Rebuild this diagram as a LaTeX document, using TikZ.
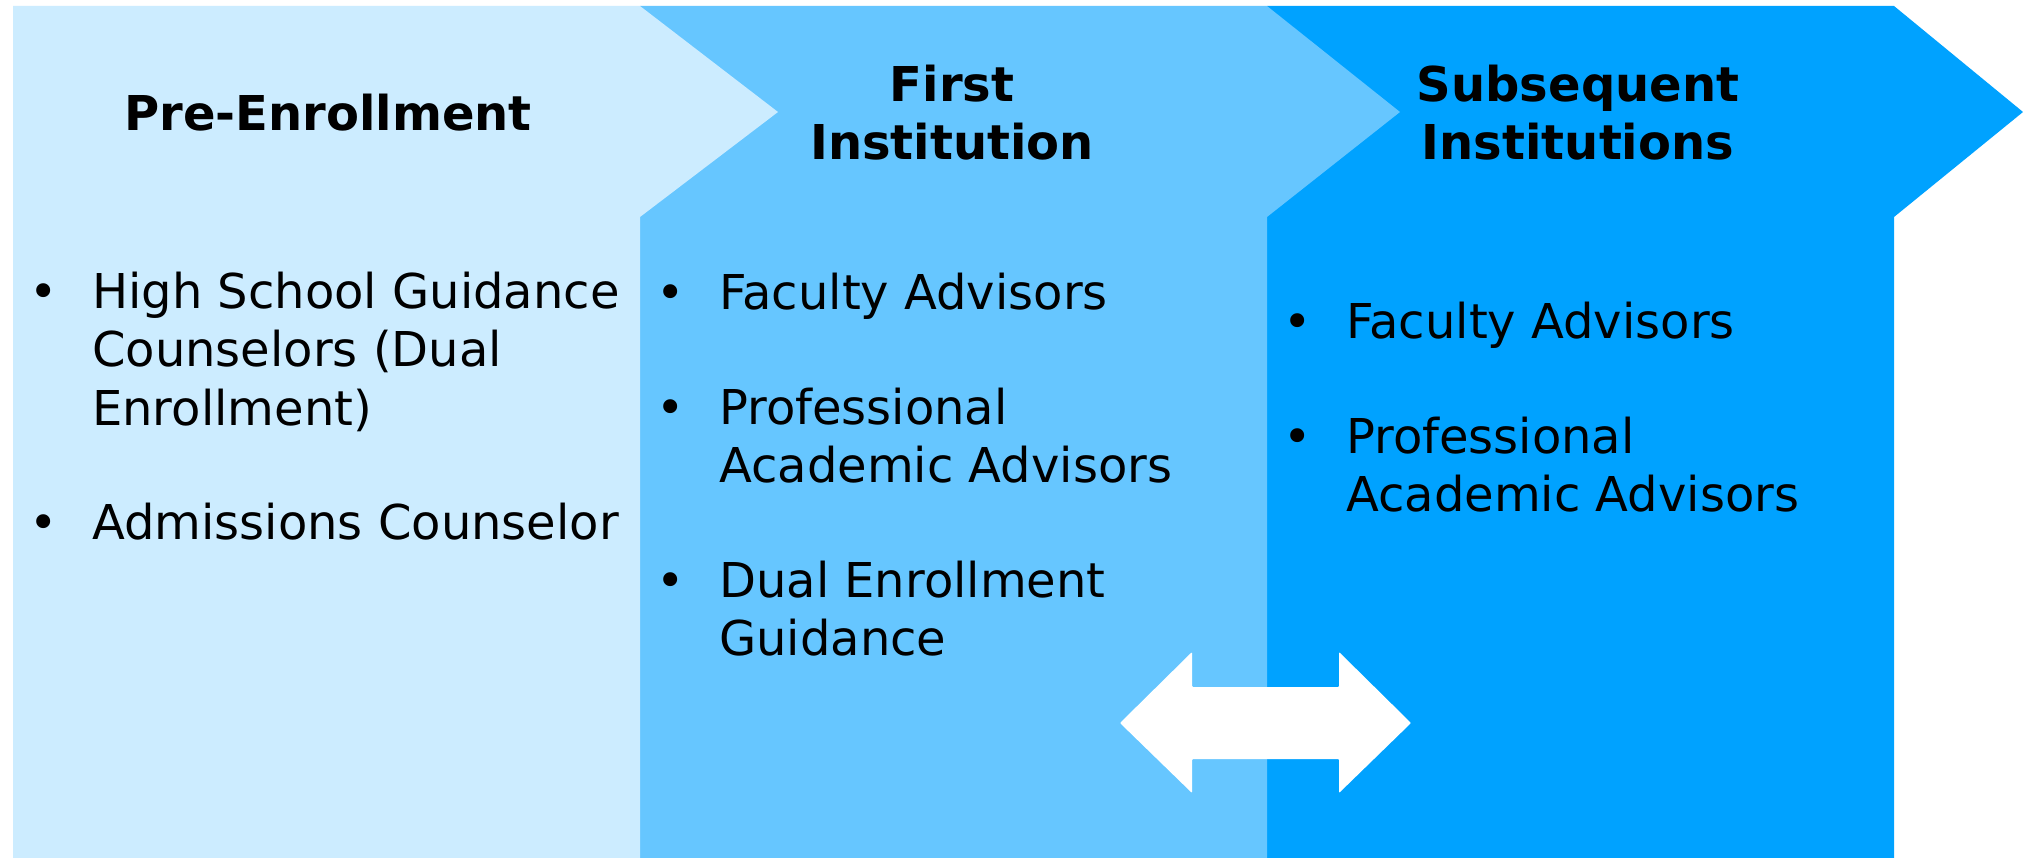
\documentclass[tikz,border=0pt]{standalone}
\usepackage{fontspec}
\setmainfont{DejaVu Sans}
\definecolor{pone}{HTML}{CCECFF}
\definecolor{ptwo}{HTML}{66C6FF}
\definecolor{pthree}{HTML}{00A2FF}
\begin{document}
\begin{tikzpicture}[x=1pt,y=-1pt,
  ttl/.style={anchor=base, inner sep=0pt, font=\bfseries\fontsize{48}{58}\selectfont},
  itm/.style={anchor=base west, inner sep=0pt, font=\fontsize{48}{58}\selectfont},
  bul/.style={anchor=base, inner sep=0pt, font=\fontsize{48}{58}\selectfont}]
\useasboundingbox[fill=white] (0,0) rectangle (2023,858);
% panels (drawn back to front)
\fill[pthree] (1267,6) -- (1894,6) -- (2023,112) -- (1894,217) -- (1894,858) -- (1267,858) -- cycle;
\fill[ptwo] (640,6) -- (1267,6) -- (1400,112) -- (1267,217) -- (1267,858) -- (640,858) -- cycle;
\fill[pone] (13,6) -- (640,6) -- (778,112) -- (640,217) -- (640,858) -- (13,858) -- cycle;
% double arrow
\fill[white, rounded corners=1pt] (1120,723) -- (1192,652) -- (1192,687) -- (1339,687) -- (1339,652)
  -- (1411,723) -- (1339,793) -- (1339,759) -- (1192,759) -- (1192,793) -- cycle;
% titles
\node[ttl] (t1) at (328,131) {Pre-Enrollment};
\node[ttl] (t2) at (952,102) {\parbox[t]{400pt}{\centering First\\Institution}};
\node[ttl] (t3) at (1578,102) {\parbox[t]{400pt}{\centering Subsequent\\Institutions}};
% panel 1 items
\node[bul] (b11) at (44,309) {•};
\node[itm] (i11) at (92,309) {\parbox[t]{560pt}{\raggedright High School Guidance\\Counselors (Dual\\Enrollment)}};
\node[bul] (b12) at (44,539) {•};
\node[itm] (i12) at (92,539) {Admissions Counselor};
% panel 2 items
\node[bul] (b21) at (671,310) {•};
\node[itm] (i21) at (719,310) {Faculty Advisors};
\node[bul] (b22) at (671,424) {•};
\node[itm] (i22) at (719,424) {\parbox[t]{560pt}{\raggedright Professional\\Academic Advisors}};
\node[bul] (b23) at (671,597) {•};
\node[itm] (i23) at (719,597) {\parbox[t]{560pt}{\raggedright Dual Enrollment\\Guidance}};
% panel 3 items
\node[bul] (b31) at (1298,338) {•};
\node[itm] (i31) at (1346,338) {Faculty Advisors};
\node[bul] (b32) at (1298,453) {•};
\node[itm] (i32) at (1346,453) {\parbox[t]{560pt}{\raggedright Professional\\Academic Advisors}};
\end{tikzpicture}
\end{document}
